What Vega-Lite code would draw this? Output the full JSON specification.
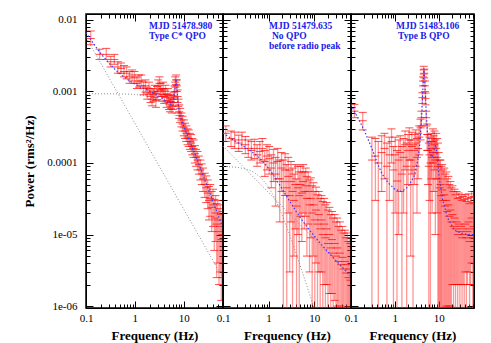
{
  "$schema": "https://vega.github.io/schema/vega-lite/v6.json",
  "autosize": {"type": "pad"},
  "padding": {"left": 23, "top": 12, "right": 0, "bottom": 0},
  "background": "white",
  "bounds": "flush",
  "spacing": 0,
  "config": {
    "view": {"stroke": "black", "strokeWidth": 1.5},
    "axis": {"labelFont": "Liberation Serif", "labelFontSize": 11, "labelColor": "black", "titleFont": "Liberation Serif", "titleFontSize": 13, "titleFontWeight": "bold", "titleColor": "black", "domainColor": "black", "domainWidth": 1, "tickColor": "black", "tickWidth": 1, "grid": false, "labelFlush": false, "labelOverlap": false, "labelBound": false}
  },
  "datasets": {
    "d1": [
      {"f":0.125,"p":0.0055,"lo":0.0045,"hi":0.007},
      {"f":0.19,"p":0.0033,"lo":0.0028,"hi":0.0039},
      {"f":0.26,"p":0.0033,"lo":0.0028,"hi":0.004},
      {"f":0.32,"p":0.0026,"lo":0.0022,"hi":0.0031},
      {"f":0.38,"p":0.0028,"lo":0.0024,"hi":0.0033},
      {"f":0.45,"p":0.0022,"lo":0.0018,"hi":0.0026},
      {"f":0.52,"p":0.0021,"lo":0.0018,"hi":0.0025},
      {"f":0.6,"p":0.0019,"lo":0.0016,"hi":0.0023},
      {"f":0.68,"p":0.0018,"lo":0.0015,"hi":0.0022},
      {"f":0.78,"p":0.0016,"lo":0.0013,"hi":0.0019},
      {"f":0.88,"p":0.0017,"lo":0.0014,"hi":0.002},
      {"f":0.98,"p":0.00155,"lo":0.0013,"hi":0.0019},
      {"f":1.1,"p":0.0013,"lo":0.0011,"hi":0.0016},
      {"f":1.22,"p":0.0014,"lo":0.00115,"hi":0.0017},
      {"f":1.35,"p":0.0014,"lo":0.0012,"hi":0.0017},
      {"f":1.5,"p":0.0011,"lo":0.0009,"hi":0.00135},
      {"f":1.65,"p":0.0012,"lo":0.00098,"hi":0.00145},
      {"f":1.8,"p":0.00095,"lo":0.00078,"hi":0.00115},
      {"f":1.95,"p":0.0011,"lo":0.0009,"hi":0.00135},
      {"f":2.1,"p":0.00085,"lo":0.0007,"hi":0.00105},
      {"f":2.25,"p":0.00078,"lo":0.00063,"hi":0.00096},
      {"f":2.4,"p":0.0009,"lo":0.00073,"hi":0.0011},
      {"f":2.55,"p":0.001,"lo":0.00082,"hi":0.00122},
      {"f":2.7,"p":0.00075,"lo":0.0006,"hi":0.00093},
      {"f":2.85,"p":0.00095,"lo":0.00077,"hi":0.00117},
      {"f":3.0,"p":0.0012,"lo":0.001,"hi":0.00145},
      {"f":3.2,"p":0.0013,"lo":0.00105,"hi":0.0016},
      {"f":3.4,"p":0.00105,"lo":0.00085,"hi":0.0013},
      {"f":3.6,"p":0.0009,"lo":0.00073,"hi":0.0011},
      {"f":3.8,"p":0.0011,"lo":0.0009,"hi":0.00135},
      {"f":4.0,"p":0.00085,"lo":0.00068,"hi":0.00105},
      {"f":4.25,"p":0.001,"lo":0.00082,"hi":0.00122},
      {"f":4.5,"p":0.00075,"lo":0.0006,"hi":0.00093},
      {"f":4.75,"p":0.0009,"lo":0.00073,"hi":0.0011},
      {"f":5.0,"p":0.0007,"lo":0.00056,"hi":0.00087},
      {"f":5.25,"p":0.00065,"lo":0.00052,"hi":0.00081},
      {"f":5.5,"p":0.00072,"lo":0.00058,"hi":0.0009},
      {"f":5.75,"p":0.00062,"lo":0.0005,"hi":0.00078},
      {"f":6.0,"p":0.0007,"lo":0.00056,"hi":0.00087},
      {"f":6.25,"p":0.00078,"lo":0.00063,"hi":0.00096},
      {"f":6.5,"p":0.001,"lo":0.00083,"hi":0.0012},
      {"f":6.75,"p":0.00135,"lo":0.00115,"hi":0.0016},
      {"f":7.0,"p":0.00145,"lo":0.00125,"hi":0.0017},
      {"f":7.25,"p":0.0012,"lo":0.001,"hi":0.00145},
      {"f":7.5,"p":0.00085,"lo":0.0007,"hi":0.00105},
      {"f":7.8,"p":0.00062,"lo":0.0005,"hi":0.00078},
      {"f":8.1,"p":0.00052,"lo":0.00042,"hi":0.00065},
      {"f":8.5,"p":0.00046,"lo":0.00037,"hi":0.00058},
      {"f":9.0,"p":0.0004,"lo":0.00032,"hi":0.0005},
      {"f":9.5,"p":0.00035,"lo":0.00028,"hi":0.00045},
      {"f":10.1,"p":0.00031,"lo":0.00024,"hi":0.0004},
      {"f":10.7,"p":0.00028,"lo":0.00022,"hi":0.00036},
      {"f":11.3,"p":0.00026,"lo":0.0002,"hi":0.00033},
      {"f":12,"p":0.00023,"lo":0.00018,"hi":0.0003},
      {"f":12.7,"p":0.00022,"lo":0.00017,"hi":0.00029},
      {"f":13.4,"p":0.0002,"lo":0.000155,"hi":0.00026},
      {"f":14.2,"p":0.00019,"lo":0.000145,"hi":0.00025},
      {"f":15,"p":0.00017,"lo":0.00013,"hi":0.00022},
      {"f":16,"p":0.00016,"lo":0.00012,"hi":0.00021},
      {"f":17,"p":0.000135,"lo":0.0001,"hi":0.000175},
      {"f":18,"p":0.00012,"lo":0.00009,"hi":0.000155},
      {"f":19.2,"p":0.00011,"lo":0.00008,"hi":0.000145},
      {"f":20.5,"p":0.000095,"lo":0.00007,"hi":0.000125},
      {"f":22,"p":0.00008,"lo":0.000058,"hi":0.00011},
      {"f":23.5,"p":0.00007,"lo":0.00005,"hi":0.000097},
      {"f":25,"p":0.00006,"lo":0.00004,"hi":0.000085},
      {"f":27,"p":0.00005,"lo":0.000033,"hi":0.000072},
      {"f":29,"p":0.000045,"lo":0.000028,"hi":0.000066},
      {"f":31,"p":0.000038,"lo":0.000023,"hi":0.000058},
      {"f":33,"p":0.00003,"lo":0.000016,"hi":0.000047},
      {"f":35,"p":0.000032,"lo":0.000018,"hi":0.00005},
      {"f":37.5,"p":0.000024,"lo":0.000011,"hi":0.00004},
      {"f":40,"p":0.000026,"lo":0.000013,"hi":0.000043},
      {"f":42.5,"p":0.000017,"lo":0.000006,"hi":0.000031},
      {"f":45,"p":0.00002,"lo":0.000008,"hi":0.000035},
      {"f":47.5,"p":0.000014,"lo":0.0000025,"hi":0.000027},
      {"f":50,"p":0.000016,"lo":0.000004,"hi":0.00003},
      {"f":53,"p":0.000011,"lo":0.000002,"hi":0.000023},
      {"f":56,"p":0.000013,"lo":0.000003,"hi":0.000026},
      {"f":59,"p":0.0000085,"lo":0.0000012,"hi":0.000019},
      {"f":62,"p":0.00001,"lo":0.0000025,"hi":0.000021}
    ],
    "m1": [
      {"c":"total","f":0.1,"p":0.00663},{"c":"total","f":0.13,"p":0.00509},{"c":"total","f":0.17,"p":0.00395},{"c":"total","f":0.22,"p":0.00314},{"c":"total","f":0.3,"p":0.00246},{"c":"total","f":0.4,"p":0.00201},{"c":"total","f":0.55,"p":0.00167},{"c":"total","f":0.75,"p":0.00143},{"c":"total","f":1,"p":0.00127},{"c":"total","f":1.4,"p":0.00113},{"c":"total","f":2,"p":0.00101},{"c":"total","f":2.8,"p":0.00089},{"c":"total","f":3.5,"p":0.00082},{"c":"total","f":4.5,"p":0.00072},{"c":"total","f":5.5,"p":0.00066},{"c":"total","f":6.2,"p":0.00074},{"c":"total","f":6.6,"p":0.001},{"c":"total","f":6.8,"p":0.00129},{"c":"total","f":7,"p":0.00148},{"c":"total","f":7.2,"p":0.00126},{"c":"total","f":7.4,"p":0.00095},{"c":"total","f":7.8,"p":0.00062},{"c":"total","f":8.5,"p":0.00045},{"c":"total","f":10,"p":0.000326},{"c":"total","f":13,"p":0.00021},{"c":"total","f":17,"p":0.000134},{"c":"total","f":22,"p":0.000086},{"c":"total","f":30,"p":0.000049},{"c":"total","f":40,"p":0.000029},{"c":"total","f":50,"p":0.0000192},{"c":"total","f":64,"p":0.0000122},
      {"c":"pl","f":0.1,"p":0.0057},{"c":"pl","f":0.3,"p":0.001525},{"c":"pl","f":1,"p":0.00036},{"c":"pl","f":3,"p":0.000096},{"c":"pl","f":10,"p":0.0000227},{"c":"pl","f":30,"p":0.0000061},{"c":"pl","f":64,"p":0.00000244},
      {"c":"lor","f":0.1,"p":0.00093},{"c":"lor","f":0.5,"p":0.000925},{"c":"lor","f":1,"p":0.00091},{"c":"lor","f":2,"p":0.000852},{"c":"lor","f":3,"p":0.000771},{"c":"lor","f":4,"p":0.00068},{"c":"lor","f":5,"p":0.000591},{"c":"lor","f":6.6,"p":0.000465},{"c":"lor","f":8,"p":0.000377},{"c":"lor","f":10,"p":0.000282},{"c":"lor","f":13,"p":0.00019},{"c":"lor","f":17,"p":0.000122},{"c":"lor","f":22,"p":0.0000768},{"c":"lor","f":30,"p":0.0000429},{"c":"lor","f":40,"p":0.0000246},{"c":"lor","f":50,"p":0.0000159},{"c":"lor","f":64,"p":0.0000098}
    ],
    "t1": [
      {"f":1.952,"p":0.00822,"t":"MJD 51478.980"},
      {"f":1.952,"p":0.00596,"t":"Type C* QPO"}
    ],
    "d2": [
      {"f":0.115,"p":0.00026,"lo":0.0002,"hi":0.00033},
      {"f":0.15,"p":0.00022,"lo":0.00017,"hi":0.00028},
      {"f":0.18,"p":0.00021,"lo":0.00016,"hi":0.00027},
      {"f":0.22,"p":0.00019,"lo":0.000145,"hi":0.000245},
      {"f":0.26,"p":0.00021,"lo":0.00016,"hi":0.00027},
      {"f":0.31,"p":0.00018,"lo":0.000135,"hi":0.000235},
      {"f":0.36,"p":0.00016,"lo":0.00012,"hi":0.00021},
      {"f":0.42,"p":0.00015,"lo":0.00011,"hi":0.0002},
      {"f":0.49,"p":0.00016,"lo":0.000115,"hi":0.000215},
      {"f":0.56,"p":0.00013,"lo":0.00009,"hi":0.00018},
      {"f":0.64,"p":0.000145,"lo":0.0001,"hi":0.0002},
      {"f":0.73,"p":0.00016,"lo":0.00011,"hi":0.00022},
      {"f":0.82,"p":0.000105,"lo":0.000065,"hi":0.00015},
      {"f":0.92,"p":0.000125,"lo":0.00008,"hi":0.00018},
      {"f":1.03,"p":0.000115,"lo":0.00007,"hi":0.00017},
      {"f":1.15,"p":0.000085,"lo":0.000045,"hi":0.00013},
      {"f":1.28,"p":0.0001,"lo":0.000055,"hi":0.000155},
      {"f":1.42,"p":0.00007,"lo":0.000025,"hi":0.00012},
      {"f":1.58,"p":0.000105,"lo":0.00006,"hi":0.00016},
      {"f":1.75,"p":0.00006,"lo":0.000015,"hi":0.00011},
      {"f":1.92,"p":0.000085,"lo":0.00004,"hi":0.00014},
      {"f":2.1,"p":0.000055,"lo":0.0000005,"hi":0.00011},
      {"f":2.3,"p":0.00008,"lo":0.000035,"hi":0.000135},
      {"f":2.5,"p":0.000045,"lo":0.0000005,"hi":0.000095},
      {"f":2.7,"p":0.000065,"lo":0.00002,"hi":0.00012},
      {"f":2.9,"p":0.000035,"lo":0.000003,"hi":0.00008},
      {"f":3.1,"p":0.000055,"lo":0.000015,"hi":0.000105},
      {"f":3.35,"p":0.00004,"lo":0.0000005,"hi":0.000085},
      {"f":3.6,"p":0.00003,"lo":0.000005,"hi":0.00007},
      {"f":3.85,"p":0.00005,"lo":0.000012,"hi":0.000095},
      {"f":4.1,"p":0.000025,"lo":0.0000005,"hi":0.00006},
      {"f":4.4,"p":0.000045,"lo":0.00001,"hi":0.00009},
      {"f":4.7,"p":0.000035,"lo":0.0000005,"hi":0.000075},
      {"f":5.0,"p":0.00005,"lo":0.000018,"hi":0.00009},
      {"f":5.35,"p":0.000038,"lo":0.000008,"hi":0.000075},
      {"f":5.7,"p":0.000055,"lo":0.00002,"hi":0.000095},
      {"f":6.1,"p":0.00004,"lo":0.000012,"hi":0.000075},
      {"f":6.5,"p":0.000048,"lo":0.000018,"hi":0.000085},
      {"f":6.9,"p":0.000032,"lo":0.000005,"hi":0.000065},
      {"f":7.4,"p":0.00004,"lo":0.000014,"hi":0.000075},
      {"f":7.9,"p":0.000026,"lo":0.000003,"hi":0.000058},
      {"f":8.4,"p":0.000032,"lo":0.000009,"hi":0.000062},
      {"f":9.0,"p":0.00002,"lo":0.0000005,"hi":0.000048},
      {"f":9.6,"p":0.000026,"lo":0.000005,"hi":0.000053},
      {"f":10.3,"p":0.000016,"lo":0.0000005,"hi":0.00004},
      {"f":11,"p":0.000022,"lo":0.000004,"hi":0.000046},
      {"f":11.8,"p":0.000014,"lo":0.0000005,"hi":0.000036},
      {"f":12.6,"p":0.000019,"lo":0.000003,"hi":0.00004},
      {"f":13.5,"p":0.000012,"lo":0.0000005,"hi":0.000032},
      {"f":14.4,"p":0.000016,"lo":0.000003,"hi":0.000035},
      {"f":15.4,"p":0.00001,"lo":0.0000005,"hi":0.000029},
      {"f":16.5,"p":0.000014,"lo":0.000002,"hi":0.000032},
      {"f":17.6,"p":0.000009,"lo":0.0000005,"hi":0.000026},
      {"f":18.8,"p":0.000012,"lo":0.000002,"hi":0.000028},
      {"f":20,"p":0.0000075,"lo":0.0000005,"hi":0.000022},
      {"f":21.5,"p":0.00001,"lo":0.0000015,"hi":0.000024},
      {"f":23,"p":0.0000065,"lo":0.0000005,"hi":0.000019},
      {"f":24.5,"p":0.0000085,"lo":0.0000015,"hi":0.000021},
      {"f":26,"p":0.0000055,"lo":0.0000005,"hi":0.000017},
      {"f":28,"p":0.0000075,"lo":0.0000012,"hi":0.000019},
      {"f":30,"p":0.000005,"lo":0.0000005,"hi":0.000015},
      {"f":32,"p":0.0000065,"lo":0.000001,"hi":0.000017},
      {"f":34,"p":0.0000042,"lo":0.0000005,"hi":0.000013},
      {"f":36.5,"p":0.0000055,"lo":0.000001,"hi":0.000015},
      {"f":39,"p":0.0000038,"lo":0.0000005,"hi":0.0000115},
      {"f":41.5,"p":0.0000048,"lo":0.0000008,"hi":0.000013},
      {"f":44,"p":0.0000033,"lo":0.0000005,"hi":0.0000105},
      {"f":47,"p":0.0000042,"lo":0.0000005,"hi":0.0000115},
      {"f":50,"p":0.0000029,"lo":0.0000005,"hi":0.000009},
      {"f":53,"p":0.0000038,"lo":0.0000005,"hi":0.0000105},
      {"f":56,"p":0.0000025,"lo":0.0000005,"hi":0.000008},
      {"f":59,"p":0.0000033,"lo":0.0000005,"hi":0.000009},
      {"f":62,"p":0.0000023,"lo":0.0000005,"hi":0.0000075}
    ],
    "m2": [
      {"c":"total","f":0.1,"p":0.0002616},{"c":"total","f":0.15,"p":0.0002207},{"c":"total","f":0.2,"p":0.0001967},{"c":"total","f":0.3,"p":0.0001675},{"c":"total","f":0.4,"p":0.0001481},{"c":"total","f":0.5,"p":0.0001332},{"c":"total","f":0.7,"p":0.0001098},{"c":"total","f":1,"p":0.0000844},{"c":"total","f":1.4,"p":0.0000621},{"c":"total","f":2,"p":0.000043},{"c":"total","f":2.8,"p":0.0000302},{"c":"total","f":4,"p":0.0000211},{"c":"total","f":5.5,"p":0.0000157},{"c":"total","f":7,"p":0.0000127},{"c":"total","f":9,"p":0.0000104},{"c":"total","f":12,"p":0.0000083},{"c":"total","f":16,"p":0.0000067},{"c":"total","f":22,"p":0.00000536},{"c":"total","f":30,"p":0.00000433},{"c":"total","f":42,"p":0.00000345},{"c":"total","f":64,"p":0.00000261},
      {"c":"lor","f":0.1,"p":0.0000896},{"c":"lor","f":0.2,"p":0.0000871},{"c":"lor","f":0.3,"p":0.0000832},{"c":"lor","f":0.4,"p":0.0000783},{"c":"lor","f":0.5,"p":0.0000728},{"c":"lor","f":0.7,"p":0.0000613},{"c":"lor","f":1,"p":0.0000459},{"c":"lor","f":1.4,"p":0.0000312},{"c":"lor","f":2,"p":0.00001853},{"c":"lor","f":2.8,"p":0.00001051},{"c":"lor","f":4,"p":0.00000547},{"c":"lor","f":5.5,"p":0.00000298},{"c":"lor","f":7,"p":0.00000186},{"c":"lor","f":9,"p":0.000001137},{"c":"lor","f":10,"p":0.000000923},
      {"c":"pl","f":0.1,"p":0.000172},{"c":"pl","f":0.3,"p":0.0000843},{"c":"pl","f":1,"p":0.0000385},{"c":"pl","f":3,"p":0.00001887},{"c":"pl","f":10,"p":0.00000862},{"c":"pl","f":30,"p":0.00000423},{"c":"pl","f":64,"p":0.00000259}
    ],
    "t2": [
      {"f":1.02,"p":0.00822,"t":"MJD 51479.635"},
      {"f":1.187,"p":0.00596,"t":"No QPO"},
      {"f":1.02,"p":0.00432,"t":"before radio peak"}
    ],
    "d3": [
      {"f":0.12,"p":0.00053,"lo":0.00043,"hi":0.00066},
      {"f":0.185,"p":0.00039,"lo":0.00029,"hi":0.00051},
      {"f":0.3,"p":0.00011,"lo":0.0000005,"hi":0.00023},
      {"f":0.36,"p":0.000125,"lo":0.00003,"hi":0.00022},
      {"f":0.42,"p":0.0001,"lo":0.0000005,"hi":0.0002},
      {"f":0.5,"p":0.00014,"lo":0.00004,"hi":0.00024},
      {"f":0.58,"p":0.00016,"lo":0.00006,"hi":0.00026},
      {"f":0.66,"p":0.00009,"lo":0.0000005,"hi":0.00019},
      {"f":0.75,"p":0.00013,"lo":0.00003,"hi":0.00023},
      {"f":0.84,"p":0.0002,"lo":0.0001,"hi":0.0003},
      {"f":0.93,"p":0.00008,"lo":0.0000005,"hi":0.00017},
      {"f":1.02,"p":0.00013,"lo":0.00002,"hi":0.00023},
      {"f":1.12,"p":0.000056,"lo":0.0000005,"hi":0.00015},
      {"f":1.22,"p":0.00011,"lo":0.00001,"hi":0.00021},
      {"f":1.33,"p":0.00014,"lo":0.00004,"hi":0.00024},
      {"f":1.45,"p":0.00007,"lo":0.0000005,"hi":0.00017},
      {"f":1.58,"p":0.00012,"lo":0.00002,"hi":0.00022},
      {"f":1.72,"p":0.00018,"lo":0.00008,"hi":0.00028},
      {"f":1.86,"p":0.00009,"lo":0.0000005,"hi":0.00019},
      {"f":2.0,"p":0.00015,"lo":0.00005,"hi":0.00025},
      {"f":2.15,"p":0.00021,"lo":0.00011,"hi":0.00031},
      {"f":2.3,"p":0.00011,"lo":0.000005,"hi":0.00021},
      {"f":2.45,"p":0.00017,"lo":0.00007,"hi":0.00027},
      {"f":2.6,"p":0.00008,"lo":0.0000005,"hi":0.00018},
      {"f":2.8,"p":0.00015,"lo":0.00005,"hi":0.00025},
      {"f":3.0,"p":0.00019,"lo":0.00009,"hi":0.00029},
      {"f":3.2,"p":0.00012,"lo":0.00002,"hi":0.00022},
      {"f":3.4,"p":0.00016,"lo":0.00006,"hi":0.00026},
      {"f":3.6,"p":0.00023,"lo":0.00013,"hi":0.00033},
      {"f":3.85,"p":0.00031,"lo":0.00021,"hi":0.00041},
      {"f":4.05,"p":0.00043,"lo":0.00033,"hi":0.00053},
      {"f":4.25,"p":0.00082,"lo":0.00068,"hi":0.00096},
      {"f":4.4,"p":0.0014,"lo":0.0012,"hi":0.0016},
      {"f":4.55,"p":0.002,"lo":0.00175,"hi":0.00225},
      {"f":4.7,"p":0.0018,"lo":0.00155,"hi":0.00205},
      {"f":4.85,"p":0.0012,"lo":0.001,"hi":0.0014},
      {"f":5.0,"p":0.0008,"lo":0.00065,"hi":0.00095},
      {"f":5.2,"p":0.00043,"lo":0.00033,"hi":0.00053},
      {"f":5.45,"p":0.00025,"lo":0.00015,"hi":0.00035},
      {"f":5.7,"p":0.00015,"lo":0.00005,"hi":0.00025},
      {"f":5.95,"p":0.00009,"lo":0.0000005,"hi":0.00019},
      {"f":6.2,"p":0.00013,"lo":0.00003,"hi":0.00023},
      {"f":6.5,"p":0.0001,"lo":0.0000005,"hi":0.0002},
      {"f":6.8,"p":0.00016,"lo":0.00006,"hi":0.00026},
      {"f":7.1,"p":0.00012,"lo":0.00002,"hi":0.00022},
      {"f":7.4,"p":0.0002,"lo":0.0001,"hi":0.0003},
      {"f":7.7,"p":0.00014,"lo":0.00004,"hi":0.00024},
      {"f":8.0,"p":0.00018,"lo":0.00008,"hi":0.00028},
      {"f":8.4,"p":0.00011,"lo":0.00001,"hi":0.00021},
      {"f":8.8,"p":0.00016,"lo":0.00006,"hi":0.00026},
      {"f":9.2,"p":0.00012,"lo":0.00002,"hi":0.00022},
      {"f":9.6,"p":0.00009,"lo":0.0000005,"hi":0.00019},
      {"f":10.0,"p":0.00006,"lo":0.0000005,"hi":0.00014},
      {"f":10.5,"p":0.000045,"lo":0.0000005,"hi":0.00011},
      {"f":11,"p":0.00005,"lo":0.0000005,"hi":0.00011},
      {"f":11.5,"p":0.000035,"lo":0.0000005,"hi":0.00009},
      {"f":12,"p":0.000042,"lo":0.0000005,"hi":0.000095},
      {"f":12.7,"p":0.00003,"lo":0.0000005,"hi":0.00008},
      {"f":13.4,"p":0.000036,"lo":0.0000005,"hi":0.000085},
      {"f":14.1,"p":0.000025,"lo":0.0000005,"hi":0.00007},
      {"f":14.9,"p":0.00003,"lo":0.000001,"hi":0.000075},
      {"f":15.7,"p":0.000021,"lo":0.0000005,"hi":0.00006},
      {"f":16.6,"p":0.000026,"lo":0.000001,"hi":0.000065},
      {"f":17.5,"p":0.000018,"lo":0.0000005,"hi":0.00005},
      {"f":18.5,"p":0.000022,"lo":0.000001,"hi":0.000055},
      {"f":19.5,"p":0.000015,"lo":0.0000005,"hi":0.000045},
      {"f":20.6,"p":0.000019,"lo":0.000002,"hi":0.000048},
      {"f":21.8,"p":0.000013,"lo":0.0000005,"hi":0.00004},
      {"f":23,"p":0.000017,"lo":0.000002,"hi":0.000043},
      {"f":24.3,"p":0.000012,"lo":0.0000005,"hi":0.000036},
      {"f":25.7,"p":0.000015,"lo":0.000002,"hi":0.00004},
      {"f":27.2,"p":0.00001,"lo":0.0000005,"hi":0.000032},
      {"f":28.8,"p":0.000014,"lo":0.000002,"hi":0.000038},
      {"f":30.5,"p":0.000011,"lo":0.0000005,"hi":0.000033},
      {"f":32.3,"p":0.000013,"lo":0.000002,"hi":0.000036},
      {"f":34.2,"p":0.000009,"lo":0.0000005,"hi":0.00003},
      {"f":36.2,"p":0.000012,"lo":0.000002,"hi":0.000034},
      {"f":38.3,"p":0.00001,"lo":0.0000005,"hi":0.000031},
      {"f":40.5,"p":0.000014,"lo":0.000003,"hi":0.000036},
      {"f":42.9,"p":0.000009,"lo":0.0000005,"hi":0.000029},
      {"f":45.4,"p":0.000011,"lo":0.000002,"hi":0.000032},
      {"f":48,"p":0.000015,"lo":0.000003,"hi":0.000037},
      {"f":50.8,"p":0.000008,"lo":0.0000005,"hi":0.000027},
      {"f":53.7,"p":0.000012,"lo":0.000002,"hi":0.000033},
      {"f":56.8,"p":0.000017,"lo":0.000004,"hi":0.00004},
      {"f":60,"p":0.000009,"lo":0.0000005,"hi":0.000028},
      {"f":63,"p":0.000013,"lo":0.000002,"hi":0.000034}
    ],
    "m3": [
      {"c":"total","f":0.1,"p":0.00065},{"c":"total","f":0.13,"p":0.00048},{"c":"total","f":0.17,"p":0.00035},{"c":"total","f":0.22,"p":0.00025},{"c":"total","f":0.3,"p":0.00016},{"c":"total","f":0.4,"p":0.0001},{"c":"total","f":0.5,"p":0.000072},{"c":"total","f":0.7,"p":0.000053},{"c":"total","f":1,"p":0.000043},{"c":"total","f":1.4,"p":0.00004},{"c":"total","f":2,"p":0.000046},{"c":"total","f":2.8,"p":0.000067},{"c":"total","f":3.3,"p":0.000105},{"c":"total","f":3.7,"p":0.00018},{"c":"total","f":4,"p":0.00035},{"c":"total","f":4.25,"p":0.00075},{"c":"total","f":4.45,"p":0.0014},{"c":"total","f":4.6,"p":0.0021},{"c":"total","f":4.75,"p":0.0017},{"c":"total","f":4.95,"p":0.001},{"c":"total","f":5.2,"p":0.0005},{"c":"total","f":5.6,"p":0.00025},{"c":"total","f":6.2,"p":0.00014},{"c":"total","f":7,"p":0.00012},{"c":"total","f":7.8,"p":0.00015},{"c":"total","f":8.5,"p":0.00018},{"c":"total","f":9.2,"p":0.00013},{"c":"total","f":10.2,"p":0.000065},{"c":"total","f":12.4,"p":0.00003},{"c":"total","f":16,"p":0.000017},{"c":"total","f":23,"p":0.0000115},{"c":"total","f":32,"p":0.0000105},{"c":"total","f":45,"p":0.00001},{"c":"total","f":64,"p":0.00001}
    ],
    "t3": [
      {"f":1.063,"p":0.00822,"t":"MJD 51483.106"},
      {"f":1.181,"p":0.00596,"t":"Type B QPO"}
    ]
  },
  "hconcat": [
    {
      "width": 137, "height": 294,
      "resolve": {"axis": {"x": "independent", "y": "independent"}},
      "layer": [
        {"data": {"name": "d1"}, "mark": {"type": "rule", "color": "#ff3030", "opacity": 0.5, "strokeWidth": 1.3, "clip": true},
         "encoding": {
           "x": {"field": "f", "type": "quantitative", "scale": {"type": "log", "domain": [0.1, 64], "nice": false},
                 "axis": {"orient": "bottom", "values": [0.1,0.2,0.3,0.4,0.5,0.6,0.7,0.8,0.9,1,2,3,4,5,6,7,8,9,10,20,30,40,50,60], "labelExpr": "datum.value==0.1?'0.1':datum.value==1?'1':datum.value==10?'10':''", "tickSize": {"condition": {"test": "datum.value==0.1||datum.value==1||datum.value==10", "value": -7}, "value": -4}, "labelPadding": 11, "title": "Frequency (Hz)", "titlePadding": 3}},
           "y": {"field": "lo", "type": "quantitative", "scale": {"type": "log", "domain": [0.00000094, 0.0121], "nice": false},
                 "axis": {"orient": "left", "values": [0.000001,0.000002,0.000003,0.000004,0.000005,0.000006,0.000007,0.000008,0.000009,0.00001,0.00002,0.00003,0.00004,0.00005,0.00006,0.00007,0.00008,0.00009,0.0001,0.0002,0.0003,0.0004,0.0005,0.0006,0.0007,0.0008,0.0009,0.001,0.002,0.003,0.004,0.005,0.006,0.007,0.008,0.009,0.01], "labelExpr": "datum.value==0.01?'0.01':datum.value==0.001?'0.001':datum.value==0.0001?'0.0001':datum.value==0.00001?'1e-05':datum.value==0.000001?'1e-06':''", "tickSize": {"condition": {"test": "datum.value==0.01||datum.value==0.001||datum.value==0.0001||datum.value==0.00001||datum.value==0.000001", "value": -7}, "value": -4}, "labelPadding": 16, "title": "Power (rms²/Hz)", "titlePadding": 10}},
           "y2": {"field": "hi"}
         }},
        {"data": {"name": "d1"}, "transform": [{"fold": ["lo", "p", "hi"], "as": ["k", "v"]}],
         "mark": {"type": "tick", "orient": "horizontal", "color": "#ff0000", "size": 8, "thickness": 1, "clip": true},
         "encoding": {
           "x": {"field": "f", "type": "quantitative", "scale": {"type": "log", "domain": [0.1, 64], "nice": false}, "axis": null},
           "y": {"field": "v", "type": "quantitative", "scale": {"type": "log", "domain": [0.00000094, 0.0121], "nice": false}, "axis": null}
         }},
        {"data": {"name": "m1"}, "transform": [{"filter": "datum.c != 'total'"}],
         "mark": {"type": "line", "color": "#8c8c8c", "strokeWidth": 1, "strokeDash": [1, 2], "clip": true},
         "encoding": {
           "x": {"field": "f", "type": "quantitative", "scale": {"type": "log", "domain": [0.1, 64], "nice": false}, "axis": null},
           "y": {"field": "p", "type": "quantitative", "scale": {"type": "log", "domain": [0.00000094, 0.0121], "nice": false}, "axis": null},
           "detail": {"field": "c"}
         }},
        {"data": {"name": "m1"}, "transform": [{"filter": "datum.c == 'total'"}],
         "mark": {"type": "line", "color": "#3a3aff", "strokeWidth": 1.2, "strokeDash": [1.5, 2], "clip": true},
         "encoding": {
           "x": {"field": "f", "type": "quantitative", "scale": {"type": "log", "domain": [0.1, 64], "nice": false},
                 "axis": {"orient": "top", "values": [0.1,0.2,0.3,0.4,0.5,0.6,0.7,0.8,0.9,1,2,3,4,5,6,7,8,9,10,20,30,40,50,60], "labels": false, "title": null, "tickSize": {"condition": {"test": "datum.value==0.1||datum.value==1||datum.value==10", "value": -7}, "value": -4}}},
           "y": {"field": "p", "type": "quantitative", "scale": {"type": "log", "domain": [0.00000094, 0.0121], "nice": false},
                 "axis": {"orient": "right", "values": [0.000001,0.000002,0.000003,0.000004,0.000005,0.000006,0.000007,0.000008,0.000009,0.00001,0.00002,0.00003,0.00004,0.00005,0.00006,0.00007,0.00008,0.00009,0.0001,0.0002,0.0003,0.0004,0.0005,0.0006,0.0007,0.0008,0.0009,0.001,0.002,0.003,0.004,0.005,0.006,0.007,0.008,0.009,0.01], "labels": false, "title": null, "tickSize": {"condition": {"test": "datum.value==0.01||datum.value==0.001||datum.value==0.0001||datum.value==0.00001||datum.value==0.000001", "value": -7}, "value": -4}}}
         }},
        {"data": {"name": "t1"},
         "mark": {"type": "text", "align": "left", "baseline": "middle", "font": "Liberation Serif", "fontWeight": "bold", "fontSize": 9.5, "color": "#2020e8"},
         "encoding": {
           "x": {"field": "f", "type": "quantitative", "scale": {"type": "log", "domain": [0.1, 64], "nice": false}, "axis": null},
           "y": {"field": "p", "type": "quantitative", "scale": {"type": "log", "domain": [0.00000094, 0.0121], "nice": false}, "axis": null},
           "text": {"field": "t"}
         }}
      ]
    },
    {
      "width": 128, "height": 294,
      "resolve": {"axis": {"x": "independent", "y": "independent"}},
      "layer": [
        {"data": {"name": "d2"}, "mark": {"type": "rule", "color": "#ff3030", "opacity": 0.5, "strokeWidth": 1.3, "clip": true},
         "encoding": {
           "x": {"field": "f", "type": "quantitative", "scale": {"type": "log", "domain": [0.1, 64], "nice": false},
                 "axis": {"orient": "bottom", "values": [0.1,0.2,0.3,0.4,0.5,0.6,0.7,0.8,0.9,1,2,3,4,5,6,7,8,9,10,20,30,40,50,60], "labelExpr": "datum.value==0.1?'0.1':datum.value==1?'1':datum.value==10?'10':''", "tickSize": {"condition": {"test": "datum.value==0.1||datum.value==1||datum.value==10", "value": -7}, "value": -4}, "labelPadding": 11, "title": "Frequency (Hz)", "titlePadding": 3}},
           "y": {"field": "lo", "type": "quantitative", "scale": {"type": "log", "domain": [0.00000094, 0.0121], "nice": false},
                 "axis": {"orient": "left", "values": [0.000001,0.000002,0.000003,0.000004,0.000005,0.000006,0.000007,0.000008,0.000009,0.00001,0.00002,0.00003,0.00004,0.00005,0.00006,0.00007,0.00008,0.00009,0.0001,0.0002,0.0003,0.0004,0.0005,0.0006,0.0007,0.0008,0.0009,0.001,0.002,0.003,0.004,0.005,0.006,0.007,0.008,0.009,0.01], "labels": false, "title": null, "tickSize": {"condition": {"test": "datum.value==0.01||datum.value==0.001||datum.value==0.0001||datum.value==0.00001||datum.value==0.000001", "value": -7}, "value": -4}}},
           "y2": {"field": "hi"}
         }},
        {"data": {"name": "d2"}, "transform": [{"fold": ["lo", "p", "hi"], "as": ["k", "v"]}],
         "mark": {"type": "tick", "orient": "horizontal", "color": "#ff0000", "size": 8, "thickness": 1, "clip": true},
         "encoding": {
           "x": {"field": "f", "type": "quantitative", "scale": {"type": "log", "domain": [0.1, 64], "nice": false}, "axis": null},
           "y": {"field": "v", "type": "quantitative", "scale": {"type": "log", "domain": [0.00000094, 0.0121], "nice": false}, "axis": null}
         }},
        {"data": {"name": "m2"}, "transform": [{"filter": "datum.c != 'total'"}],
         "mark": {"type": "line", "color": "#8c8c8c", "strokeWidth": 1, "strokeDash": [1, 2], "clip": true},
         "encoding": {
           "x": {"field": "f", "type": "quantitative", "scale": {"type": "log", "domain": [0.1, 64], "nice": false}, "axis": null},
           "y": {"field": "p", "type": "quantitative", "scale": {"type": "log", "domain": [0.00000094, 0.0121], "nice": false}, "axis": null},
           "detail": {"field": "c"}
         }},
        {"data": {"name": "m2"}, "transform": [{"filter": "datum.c == 'total'"}],
         "mark": {"type": "line", "color": "#3a3aff", "strokeWidth": 1.2, "strokeDash": [1.5, 2], "clip": true},
         "encoding": {
           "x": {"field": "f", "type": "quantitative", "scale": {"type": "log", "domain": [0.1, 64], "nice": false},
                 "axis": {"orient": "top", "values": [0.1,0.2,0.3,0.4,0.5,0.6,0.7,0.8,0.9,1,2,3,4,5,6,7,8,9,10,20,30,40,50,60], "labels": false, "title": null, "tickSize": {"condition": {"test": "datum.value==0.1||datum.value==1||datum.value==10", "value": -7}, "value": -4}}},
           "y": {"field": "p", "type": "quantitative", "scale": {"type": "log", "domain": [0.00000094, 0.0121], "nice": false},
                 "axis": {"orient": "right", "values": [0.000001,0.000002,0.000003,0.000004,0.000005,0.000006,0.000007,0.000008,0.000009,0.00001,0.00002,0.00003,0.00004,0.00005,0.00006,0.00007,0.00008,0.00009,0.0001,0.0002,0.0003,0.0004,0.0005,0.0006,0.0007,0.0008,0.0009,0.001,0.002,0.003,0.004,0.005,0.006,0.007,0.008,0.009,0.01], "labels": false, "title": null, "tickSize": {"condition": {"test": "datum.value==0.01||datum.value==0.001||datum.value==0.0001||datum.value==0.00001||datum.value==0.000001", "value": -7}, "value": -4}}}
         }},
        {"data": {"name": "t2"},
         "mark": {"type": "text", "align": "left", "baseline": "middle", "font": "Liberation Serif", "fontWeight": "bold", "fontSize": 9.5, "color": "#2020e8"},
         "encoding": {
           "x": {"field": "f", "type": "quantitative", "scale": {"type": "log", "domain": [0.1, 64], "nice": false}, "axis": null},
           "y": {"field": "p", "type": "quantitative", "scale": {"type": "log", "domain": [0.00000094, 0.0121], "nice": false}, "axis": null},
           "text": {"field": "t"}
         }}
      ]
    },
    {
      "width": 123, "height": 294,
      "resolve": {"axis": {"x": "independent", "y": "independent"}},
      "layer": [
        {"data": {"name": "d3"}, "mark": {"type": "rule", "color": "#ff3030", "opacity": 0.5, "strokeWidth": 1.3, "clip": true},
         "encoding": {
           "x": {"field": "f", "type": "quantitative", "scale": {"type": "log", "domain": [0.1, 64], "nice": false},
                 "axis": {"orient": "bottom", "values": [0.1,0.2,0.3,0.4,0.5,0.6,0.7,0.8,0.9,1,2,3,4,5,6,7,8,9,10,20,30,40,50,60], "labelExpr": "datum.value==0.1?'0.1':datum.value==1?'1':datum.value==10?'10':''", "tickSize": {"condition": {"test": "datum.value==0.1||datum.value==1||datum.value==10", "value": -7}, "value": -4}, "labelPadding": 11, "title": "Frequency (Hz)", "titlePadding": 3}},
           "y": {"field": "lo", "type": "quantitative", "scale": {"type": "log", "domain": [0.00000094, 0.0121], "nice": false},
                 "axis": {"orient": "left", "values": [0.000001,0.000002,0.000003,0.000004,0.000005,0.000006,0.000007,0.000008,0.000009,0.00001,0.00002,0.00003,0.00004,0.00005,0.00006,0.00007,0.00008,0.00009,0.0001,0.0002,0.0003,0.0004,0.0005,0.0006,0.0007,0.0008,0.0009,0.001,0.002,0.003,0.004,0.005,0.006,0.007,0.008,0.009,0.01], "labels": false, "title": null, "tickSize": {"condition": {"test": "datum.value==0.01||datum.value==0.001||datum.value==0.0001||datum.value==0.00001||datum.value==0.000001", "value": -7}, "value": -4}}},
           "y2": {"field": "hi"}
         }},
        {"data": {"name": "d3"}, "transform": [{"fold": ["lo", "p", "hi"], "as": ["k", "v"]}],
         "mark": {"type": "tick", "orient": "horizontal", "color": "#ff0000", "size": 8, "thickness": 1, "clip": true},
         "encoding": {
           "x": {"field": "f", "type": "quantitative", "scale": {"type": "log", "domain": [0.1, 64], "nice": false}, "axis": null},
           "y": {"field": "v", "type": "quantitative", "scale": {"type": "log", "domain": [0.00000094, 0.0121], "nice": false}, "axis": null}
         }},
        {"data": {"name": "m3"},
         "mark": {"type": "line", "color": "#3a3aff", "strokeWidth": 1.2, "strokeDash": [1.5, 2], "clip": true},
         "encoding": {
           "x": {"field": "f", "type": "quantitative", "scale": {"type": "log", "domain": [0.1, 64], "nice": false},
                 "axis": {"orient": "top", "values": [0.1,0.2,0.3,0.4,0.5,0.6,0.7,0.8,0.9,1,2,3,4,5,6,7,8,9,10,20,30,40,50,60], "labels": false, "title": null, "tickSize": {"condition": {"test": "datum.value==0.1||datum.value==1||datum.value==10", "value": -7}, "value": -4}}},
           "y": {"field": "p", "type": "quantitative", "scale": {"type": "log", "domain": [0.00000094, 0.0121], "nice": false},
                 "axis": {"orient": "right", "values": [0.000001,0.000002,0.000003,0.000004,0.000005,0.000006,0.000007,0.000008,0.000009,0.00001,0.00002,0.00003,0.00004,0.00005,0.00006,0.00007,0.00008,0.00009,0.0001,0.0002,0.0003,0.0004,0.0005,0.0006,0.0007,0.0008,0.0009,0.001,0.002,0.003,0.004,0.005,0.006,0.007,0.008,0.009,0.01], "labels": false, "title": null, "tickSize": {"condition": {"test": "datum.value==0.01||datum.value==0.001||datum.value==0.0001||datum.value==0.00001||datum.value==0.000001", "value": -7}, "value": -4}}}
         }},
        {"data": {"name": "t3"},
         "mark": {"type": "text", "align": "left", "baseline": "middle", "font": "Liberation Serif", "fontWeight": "bold", "fontSize": 9.5, "color": "#2020e8"},
         "encoding": {
           "x": {"field": "f", "type": "quantitative", "scale": {"type": "log", "domain": [0.1, 64], "nice": false}, "axis": null},
           "y": {"field": "p", "type": "quantitative", "scale": {"type": "log", "domain": [0.00000094, 0.0121], "nice": false}, "axis": null},
           "text": {"field": "t"}
         }}
      ]
    }
  ]
}
